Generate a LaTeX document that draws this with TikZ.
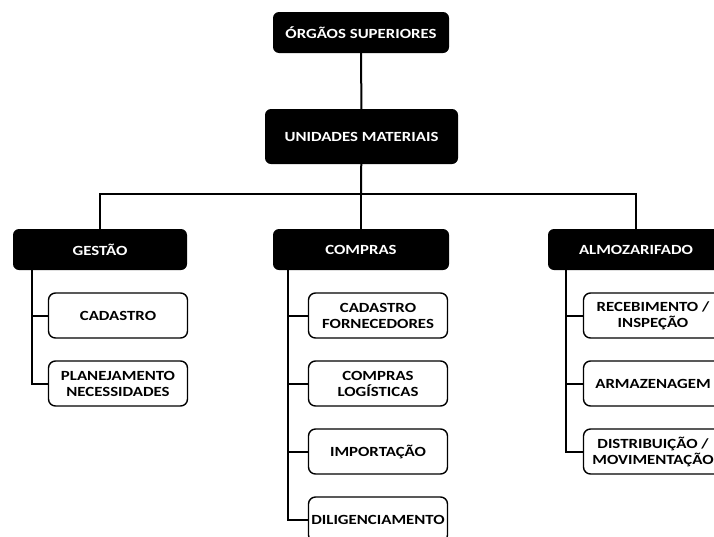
\documentclass[tikz,border=0pt]{standalone}
\usepackage{fontspec}
\setmainfont{Carlito}[FakeStretch=1.2]

\begin{document}
\begin{tikzpicture}[x=1pt,y=-1pt,
		topbox/.style={fill=black,text=white,rounded corners=6pt,minimum width=176pt,minimum height=41pt,inner sep=1pt,font=\fontsize{14}{16}\selectfont\bfseries},
		subbox/.style={draw=black,line width=1.4pt,fill=white,rounded corners=7pt,minimum width=139pt,minimum height=45pt,align=center,inner sep=1pt,font=\fontsize{14}{16}\selectfont\bfseries},
		link/.style={line width=2pt}]
		\clip (0,0) rectangle (714,536);
		\fill[white] (0,0) rectangle (714,536);
		\node[topbox] (orgaos) at (361,32.5) {ÓRGÃOS SUPERIORES};
		\node[topbox,minimum width=193pt,minimum height=55pt] (unid) at (361.5,136.5) {UNIDADES MATERIAIS};
		\node[topbox,minimum width=174pt] (gest) at (100,249.5) {GESTÃO};
		\node[topbox] (comp) at (361,249.5) {COMPRAS};
		\node[topbox] (almo) at (636,249.5) {ALMOZARIFADO};
		\node[subbox] (cad) at (118,315.5) {CADASTRO};
		\node[subbox] (plan) at (118,383.5) {PLANEJAMENTO\\NECESSIDADES};
		\node[subbox] (forn) at (378,315.5) {CADASTRO\\FORNECEDORES};
		\node[subbox] (logi) at (378,383.5) {COMPRAS\\LOGÍSTICAS};
		\node[subbox] (impo) at (378,451.5) {IMPORTAÇÃO};
		\node[subbox] (dili) at (378,519.5) {DILIGENCIAMENTO};
		\node[subbox] (rece) at (653,315.5) {RECEBIMENTO /\\INSPEÇÃO};
		\node[subbox] (arma) at (653,383.5) {ARMAZENAGEM};
		\node[subbox] (dist) at (653,451.5) {DISTRIBUIÇÃO /\\MOVIMENTAÇÃO};
		\coordinate (bus) at (361,194);
		\coordinate (gl) at ([xshift=19pt]gest.south west);
		\coordinate (cl) at ([xshift=15pt]comp.south west);
		\coordinate (al) at ([xshift=18pt]almo.south west);
		\draw[link] (orgaos) -- (unid);
		\draw[link] (unid) -- (bus);
		\draw[link] (gest.north) |- (bus) -| (almo.north);
		\draw[link] (bus) -- (comp.north);
		\draw[link] (gl) |- (plan.west);
		\draw[link] (cad.west) -- (cad.west -| gl);
		\draw[link] (cl) |- (dili.west);
		\draw[link] (forn.west) -- (forn.west -| cl);
		\draw[link] (logi.west) -- (logi.west -| cl);
		\draw[link] (impo.west) -- (impo.west -| cl);
		\draw[link] (al) |- (dist.west);
		\draw[link] (rece.west) -- (rece.west -| al);
		\draw[link] (arma.west) -- (arma.west -| al);
	\end{tikzpicture}
\end{document}
